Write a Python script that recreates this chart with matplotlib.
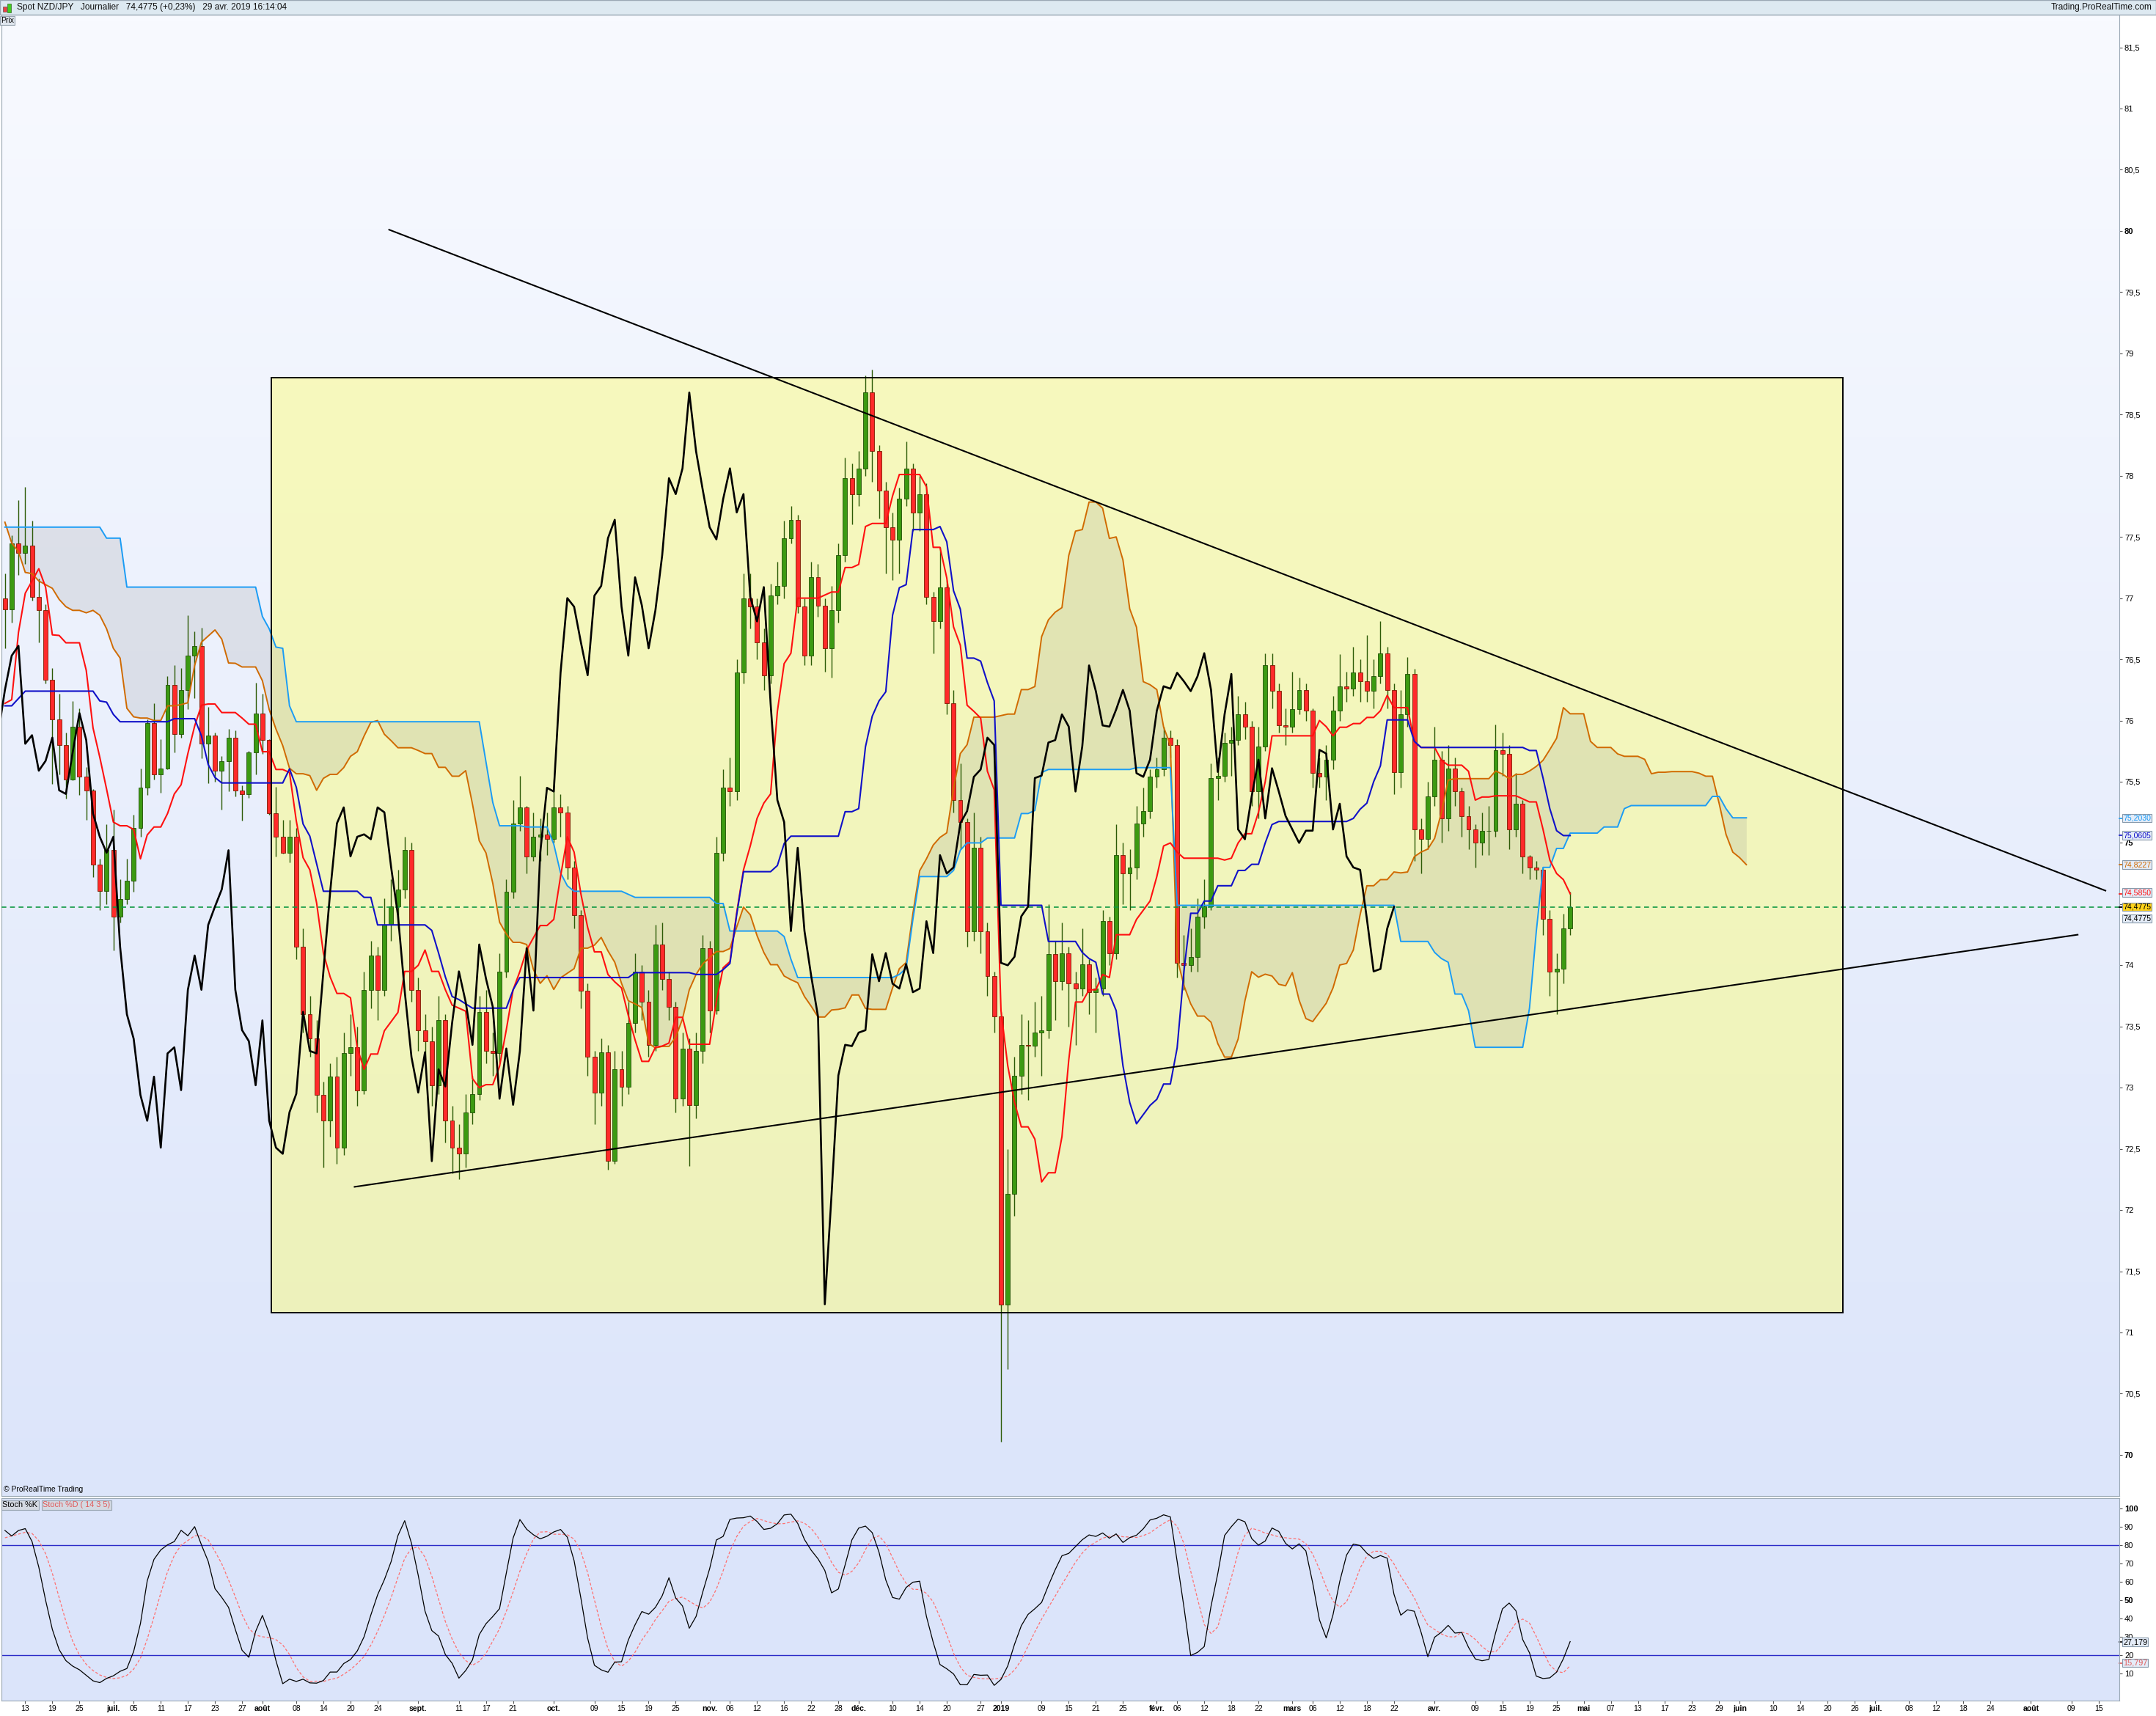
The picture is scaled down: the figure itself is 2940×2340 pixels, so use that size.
import numpy as np
import pandas as pd
import matplotlib
matplotlib.use("Agg")
import matplotlib.pyplot as plt
from matplotlib.patches import Rectangle
from matplotlib.colors import LinearSegmentedColormap

plt.rcParams['font.family'] = ['Liberation Sans', 'DejaVu Sans']

# trading days (weekdays) from the first candle to the end of the axis
days = pd.bdate_range("2018-06-08", "2019-08-30")

# daily NZD/JPY candles, 8 June 2018 -> 29 April 2019 (open = previous close)
first_open = 77.00
close = [
    76.91, 77.45, 77.37, 77.43, 77.01, 76.90, 76.33, 76.01, 75.80, 75.52,
    75.95, 75.54, 75.43, 74.82, 74.61, 74.94, 74.40, 74.54, 74.69, 75.12,
    75.45, 75.98, 75.56, 75.61, 76.29, 75.89, 76.25, 76.53, 76.61, 75.81,
    75.88, 75.59, 75.67, 75.86, 75.43, 75.40, 75.74, 76.06, 75.84, 75.24,
    75.05, 74.92, 75.05, 74.15, 73.60, 73.40, 72.94, 72.73, 73.09, 72.51,
    73.28, 73.33, 72.98, 73.80, 74.08, 73.80, 74.33, 74.48, 74.62, 74.94,
    73.80, 73.47, 73.38, 73.02, 73.55, 72.73, 72.51, 72.46, 72.80, 72.95,
    73.62, 73.30, 73.28, 73.95, 74.60, 75.16, 75.29, 74.89, 75.05, 75.07,
    75.03, 75.29, 75.25, 74.80, 74.41, 73.79, 73.25, 72.96, 73.29, 72.40,
    73.15, 73.01, 73.53, 73.95, 73.70, 73.35, 74.17, 73.89, 73.66, 72.91,
    73.32, 72.86, 73.30, 74.14, 73.63, 74.92, 75.45, 75.42, 76.39, 77.00,
    76.93, 76.64, 76.37, 77.02, 77.10, 77.49, 77.64, 76.93, 76.53, 77.17,
    76.94, 76.59, 76.90, 77.35, 77.98, 77.85, 78.06, 78.68, 78.20, 77.88,
    77.58, 77.48, 77.81, 78.06, 77.70, 77.85, 77.01, 76.81, 77.09, 76.14,
    75.35, 75.17, 74.28, 74.96, 74.28, 73.91, 73.58, 71.23, 72.13, 73.10,
    73.35, 73.34, 73.45, 73.47, 74.09, 73.87, 74.10, 73.85, 73.81, 74.01,
    73.78, 73.81, 74.36, 74.10, 74.90, 74.75, 74.80, 75.16, 75.26, 75.54,
    75.60, 75.86, 75.80, 74.02, 74.00, 74.07, 74.40, 74.48, 75.53, 75.55,
    75.82, 75.84, 76.05, 75.95, 75.42, 75.79, 76.45, 76.24, 75.96, 75.95,
    76.09, 76.25, 76.08, 75.57, 75.54, 75.68, 76.08, 76.28, 76.26, 76.39,
    76.32, 76.24, 76.36, 76.55, 76.25, 75.58, 76.05, 76.38, 75.11, 75.03,
    75.38, 75.68, 75.20, 75.61, 75.42, 75.22, 75.11, 75.00, 75.10, 75.10,
    75.76, 75.73, 75.11, 75.32, 74.89, 74.80, 74.78, 74.38, 73.95, 73.97,
    74.30, 74.4775,
]
high = [
    77.20, 77.51, 77.80, 77.91, 77.63, 77.16, 76.95, 76.43, 76.22, 75.90,
    76.16, 76.10, 75.62, 75.44, 74.87, 75.15, 75.27, 74.70, 74.87, 75.23,
    75.61, 76.01, 76.14, 75.85, 76.36, 76.45, 76.43, 76.86, 76.73, 76.76,
    76.11, 75.90, 75.71, 75.93, 75.92, 75.47, 75.75, 76.31, 76.22, 75.85,
    75.46, 75.19, 75.19, 75.12, 74.30, 73.75, 73.55, 73.05, 73.20, 73.25,
    73.45, 73.60, 73.50, 73.95, 74.20, 74.15, 74.55, 74.70, 74.78, 75.05,
    75.00, 73.90, 73.60, 73.50, 73.75, 73.60, 72.85, 72.70, 72.95, 73.10,
    73.75, 73.80, 73.45, 74.10, 74.70, 75.35, 75.55, 75.30, 75.25, 75.20,
    75.25, 75.52, 75.40, 75.30, 74.85, 74.45, 73.85, 73.30, 73.40, 73.35,
    73.30, 73.30, 73.70, 74.10, 74.00, 73.80, 74.33, 74.35, 73.95, 73.70,
    73.45, 73.40, 73.45, 74.25, 74.20, 75.05, 75.60, 75.70, 76.50, 77.20,
    77.20, 77.00, 76.75, 77.12, 77.30, 77.63, 77.75, 77.68, 77.00, 77.30,
    77.28, 77.00, 77.10, 77.45, 78.15, 78.10, 78.20, 78.82, 78.87, 78.25,
    77.95, 77.70, 77.90, 78.28, 78.10, 78.00, 77.94, 77.05, 77.42, 77.15,
    76.25, 75.65, 75.20, 75.25, 75.05, 74.35, 73.95, 73.62, 72.50, 73.25,
    73.60, 73.55, 73.70, 73.75, 74.50, 74.20, 74.35, 74.15, 73.95, 74.30,
    74.05, 73.90, 74.45, 74.40, 75.15, 75.00, 74.95, 75.30, 75.45, 75.60,
    75.70, 75.95, 75.92, 75.85, 74.25, 74.30, 74.55, 74.70, 75.65, 75.70,
    75.90, 75.95, 76.20, 76.15, 76.00, 75.95, 76.55, 76.55, 76.30, 76.10,
    76.40, 76.35, 76.30, 76.10, 75.70, 75.80, 76.20, 76.54, 76.40, 76.60,
    76.50, 76.70, 76.50, 76.81, 76.60, 76.30, 76.25, 76.52, 76.42, 75.20,
    75.50, 75.95, 75.75, 75.80, 75.70, 75.45, 75.30, 75.15, 75.25, 75.30,
    75.97, 75.90, 75.80, 75.57, 75.35, 74.90, 74.85, 74.80, 74.45, 74.10,
    74.42, 74.60,
]
low = [
    76.59, 76.80, 77.19, 77.28, 76.98, 76.64, 76.30, 75.48, 75.56, 75.36,
    75.51, 75.39, 75.19, 74.72, 74.45, 74.50, 74.12, 74.35, 74.50, 74.60,
    75.05, 75.39, 75.52, 75.41, 75.60, 75.74, 75.86, 76.09, 76.18, 75.69,
    75.49, 75.50, 75.27, 75.42, 75.38, 75.18, 75.37, 75.56, 75.73, 75.23,
    74.89, 74.91, 74.84, 74.05, 73.45, 73.25, 72.80, 72.35, 72.60, 72.38,
    72.45, 73.10, 72.85, 72.95, 73.65, 73.55, 73.75, 74.20, 74.30, 74.55,
    73.70, 73.30, 73.20, 72.85, 72.95, 72.55, 72.30, 72.25, 72.35, 72.70,
    72.90, 73.20, 73.10, 73.20, 73.90, 74.55, 75.10, 74.75, 74.85, 74.85,
    74.90, 75.00, 75.05, 74.70, 74.30, 73.65, 73.10, 72.70, 72.85, 72.33,
    72.38, 72.85, 72.95, 73.45, 73.55, 73.25, 73.30, 73.80, 73.55, 72.80,
    72.85, 72.36, 72.75, 73.20, 73.45, 73.60, 74.85, 75.30, 75.35, 76.30,
    76.75, 76.50, 76.25, 76.30, 76.95, 77.00, 77.45, 76.88, 76.45, 76.45,
    76.85, 76.40, 76.35, 76.80, 77.30, 77.60, 77.75, 78.00, 77.95, 77.65,
    77.20, 77.15, 77.20, 77.75, 77.55, 77.55, 76.95, 76.55, 76.75, 76.05,
    75.25, 74.95, 74.15, 74.20, 74.10, 73.75, 73.45, 70.11, 70.70, 71.95,
    72.95, 72.90, 73.25, 73.10, 73.40, 73.55, 73.80, 73.50, 73.35, 73.75,
    73.60, 73.45, 73.75, 74.00, 74.05, 74.50, 74.45, 74.70, 75.05, 75.20,
    75.45, 75.55, 75.70, 73.90, 73.80, 73.95, 73.95, 74.30, 74.45, 75.35,
    75.50, 75.55, 75.80, 75.85, 75.30, 75.20, 75.75, 76.10, 75.90, 75.80,
    75.90, 76.05, 76.00, 75.45, 75.45, 75.35, 75.60, 76.00, 76.15, 76.20,
    76.15, 76.15, 76.10, 76.30, 76.10, 75.40, 75.45, 75.95, 74.85, 74.75,
    74.95, 75.30, 75.00, 75.10, 75.30, 75.05, 74.95, 74.80, 74.90, 74.90,
    75.05, 75.55, 74.95, 75.05, 74.75, 74.70, 74.70, 74.25, 73.75, 73.60,
    73.85, 74.25,
]

tenkan_lead = [76.14, 76.17, 76.72, 77.04, 77.14, 77.24, 77.09, 76.70]
kijun_lead = [76.12, 76.12, 76.18] + [76.24] * 11 + [76.16, 76.15, 76.05] + [75.99] * 8
span_a_lead = [77.62, 77.45, 77.38, 77.21, 77.20, 77.14, 77.11, 77.08, 76.99, 76.93,
               76.90, 76.90, 76.88, 76.90, 76.86, 76.75, 76.59, 76.51, 76.10, 76.03,
               76.02, 76.02, 76.00, 76.00, 76.12, 76.12]
span_b_levels = [77.58, 77.49, 77.09, 76.85, 76.75, 76.60, 76.59, 76.12, 75.99, 75.66, 75.33, 75.14]
span_b_runs = [15, 3, 20, 1, 1, 1, 1, 1, 28, 1, 1, 4]
stoch_k_lead = [88, 85, 88, 89, 82, 68, 50, 34, 23, 17, 14, 12, 9, 6, 5]
stoch_d_lead = [84, 85, 86, 87]

# drawn objects: (day index, price)
box_corners = [(39.3, 71.16), (271.2, 78.80)]
upper_trend = [(56.7, 80.01), (310.0, 74.61)]
lower_trend = [(51.6, 72.19), (305.9, 74.25)]

# x-axis labels
tick_dates = ["2018-06-13", "2018-06-19", "2018-06-25", "2018-07-02", "2018-07-05", "2018-07-11",
              "2018-07-17", "2018-07-23", "2018-07-27", "2018-08-01", "2018-08-08", "2018-08-14",
              "2018-08-20", "2018-08-24", "2018-09-03", "2018-09-11", "2018-09-17", "2018-09-21",
              "2018-10-01", "2018-10-09", "2018-10-15", "2018-10-19", "2018-10-25", "2018-11-01",
              "2018-11-06", "2018-11-12", "2018-11-16", "2018-11-22", "2018-11-28", "2018-12-03",
              "2018-12-10", "2018-12-14", "2018-12-20", "2018-12-27", "2019-01-01", "2019-01-09",
              "2019-01-15", "2019-01-21", "2019-01-25", "2019-02-01", "2019-02-06", "2019-02-12",
              "2019-02-18", "2019-02-22", "2019-03-01", "2019-03-06", "2019-03-12", "2019-03-18",
              "2019-03-22", "2019-04-01", "2019-04-09", "2019-04-15", "2019-04-19", "2019-04-25",
              "2019-05-01", "2019-05-07", "2019-05-13", "2019-05-17", "2019-05-23", "2019-05-29",
              "2019-06-03", "2019-06-10", "2019-06-14", "2019-06-20", "2019-06-26", "2019-07-01",
              "2019-07-08", "2019-07-12", "2019-07-18", "2019-07-24", "2019-08-01", "2019-08-09",
              "2019-08-15"]
tick_labels = ["13", "19", "25", "juil.", "05", "11", "17", "23", "27", "août", "08", "14",
               "20", "24", "sept.", "11", "17", "21", "oct.", "09", "15", "19", "25", "nov.",
               "06", "12", "16", "22", "28", "déc.", "10", "14", "20", "27", "2019", "09",
               "15", "21", "25", "févr.", "06", "12", "18", "22", "mars", "06", "12", "18",
               "22", "avr.", "09", "15", "19", "25", "mai", "07", "13", "17", "23", "29",
               "juin", "10", "14", "20", "26", "juil.", "08", "12", "18", "24", "août", "09", "15"]

# ---- indicators
c = np.array(close)
h = np.array(high)
l = np.array(low)
o = np.concatenate([[first_open], c[:-1]])
h = np.maximum(h, np.maximum(o, c))
l = np.minimum(l, np.minimum(o, c))
n = len(c)
x = np.arange(n)
hs, ls = pd.Series(h), pd.Series(l)


def midpoint(p):
    return ((hs.rolling(p).max() + ls.rolling(p).min()) / 2).to_numpy()


tenkan = midpoint(9)
tenkan[:8] = tenkan_lead
kijun = midpoint(26)
kijun[:25] = kijun_lead
span_a = np.concatenate([span_a_lead, (tenkan + kijun) / 2])
span_b = np.concatenate([[np.nan] * 26, midpoint(52)])
span_b[:77] = np.repeat(span_b_levels, span_b_runs)
xs = np.arange(n + 26)

raw_k = 100 * (c - ls.rolling(14).min()) / (hs.rolling(14).max() - ls.rolling(14).min())
stoch_k = raw_k.rolling(3).mean().to_numpy()
stoch_k[:15] = stoch_k_lead
stoch_d = pd.Series(stoch_k).rolling(5).mean().to_numpy()
stoch_d[:4] = stoch_d_lead

# ---- figure
W, H = 2940, 2340
fig = plt.figure(figsize=(W / 100, H / 100), dpi=100)


def px_box(left, top, right, bottom):
    return [left / W, 1 - bottom / H, (right - left) / W, (bottom - top) / H]


XMIN, XMAX = -0.51, 312.05
YMIN, YMAX = 69.664, 81.767

# header bar
fig.patches.append(Rectangle((0, 1 - 20 / H), 1, 20 / H, transform=fig.transFigure,
                             facecolor='#dde9f1', edgecolor='#9aa8b4', lw=1))
fig.patches.append(Rectangle((4 / W, 1 - 16 / H), 5 / W, 7 / H, transform=fig.transFigure,
                             facecolor='#f04040', edgecolor='#555555', lw=0.5))
fig.patches.append(Rectangle((10 / W, 1 - 17 / H), 5 / W, 12 / H, transform=fig.transFigure,
                             facecolor='#44cc22', edgecolor='#336622', lw=0.5))
fig.text(23 / W, 1 - 10.5 / H, "Spot NZD/JPY   Journalier   74,4775 (+0,23%)   29 avr. 2019 16:14:04",
         fontsize=8.6, va='center', ha='left', color='#111111')
fig.text(2935 / W, 1 - 10.5 / H, "Trading.ProRealTime.com", fontsize=8.6, va='center', ha='right',
         color='#111111')

ax = fig.add_axes(px_box(2, 20, 2890, 2040))
ax2 = fig.add_axes(px_box(2, 2043, 2890, 2319))

# background gradient of the price panel
grad = np.linspace(0, 1, 256).reshape(-1, 1)
cmap = LinearSegmentedColormap.from_list('bg', ['#f8faff', '#dce5fa'])
ax.imshow(grad, extent=[XMIN, XMAX, YMIN, YMAX], aspect='auto', cmap=cmap, origin='upper', zorder=0)

(bx0, by0), (bx1, by1) = box_corners
ax.add_patch(Rectangle((bx0, by0), bx1 - bx0, by1 - by0, facecolor='#ffff70', alpha=0.45,
                       edgecolor='none', zorder=1))
ax.add_patch(Rectangle((bx0, by0), bx1 - bx0, by1 - by0, facecolor='none', edgecolor='black',
                       lw=1.4, zorder=7))

# cloud
ax.fill_between(xs, span_a, span_b, color='#8e8e8e', alpha=0.18, lw=0, zorder=2)
ax.plot(xs, span_a, color='#d06a00', lw=1.4, zorder=5)
ax.plot(xs, span_b, color='#1a9cf5', lw=1.4, zorder=5)

# candles
up = c >= o
ax.vlines(x, l, h, color='#2c5a06', lw=1.0, zorder=3)
ax.bar(x[up], (c - o)[up], bottom=o[up], width=0.64, color='#3c9a12', edgecolor='#1f4f05',
       lw=0.6, zorder=4)
ax.bar(x[~up], (c - o)[~up], bottom=o[~up], width=0.64, color='#ff2a2a', edgecolor='#7a1a00',
       lw=0.6, zorder=4)

ax.plot(x, tenkan, color='#ff1010', lw=1.5, zorder=5)
ax.plot(x, kijun, color='#1010c8', lw=1.5, zorder=5)
ax.plot(x - 26, c, color='black', lw=1.9, zorder=6)

ax.axhline(close[-1], color='#119944', ls=(0, (4, 3)), lw=1.2, zorder=5)
for (x0, y0), (x1, y1) in (upper_trend, lower_trend):
    ax.plot([x0, x1], [y0, y1], color='black', lw=1.5, zorder=7)

ax.set_xlim(XMIN, XMAX)
ax.set_ylim(YMIN, YMAX)
ax.set_xticks([])
ax.yaxis.tick_right()
yt = np.arange(70, 82, 0.5)
ax.set_yticks(yt)
# the 74,5 label sits under the value tags, as on the original
ax.set_yticklabels(["" if v == 74.5 else f"{v:g}".replace('.', ',') for v in yt])
for v, lab in zip(yt, ax.get_yticklabels()):
    if v % 5 == 0:
        lab.set_fontweight('bold')
ax.tick_params(axis='y', direction='out', length=3, pad=2, labelsize=8, color='#555555')
for s in ax.spines.values():
    s.set_color('#9aa8b4')

ax.text(0.0012, 0.002, "© ProRealTime Trading", transform=ax.transAxes, fontsize=7.5,
        va='bottom', ha='left', zorder=8)
fig.text(1 / W, 1 - 28 / H, "Prix", fontsize=7.5, va='center', ha='left',
         bbox=dict(facecolor='#dfe6ee', edgecolor='#98a4b0', pad=1.0, lw=0.8))

# value tags on the price axis
tags = [(75.2030, "75,2030", '#1a9cf5', '#e4ecf8', 0), (75.0605, "75,0605", '#1010c8', '#e4ecf8', 0),
        (74.8227, "74,8227", '#d06a00', '#e4ecf8', 0), (74.5850, "74,5850", '#ff1010', '#e4ecf8', 0.01),
        (74.4775, "74,4775", 'black', '#e4ecf8', -0.095), (74.4775, "74,4775", 'black', '#ffd21a', 0)]
ytr = ax.get_yaxis_transform()
for val, txt, col, bg, off in tags:
    ax.plot([1.0, 1.0016], [val, val], transform=ytr, color=col, lw=1.2, clip_on=False, zorder=10)
    ax.text(1.0018, val + off, txt, transform=ytr, color=col, fontsize=7.6, va='center', ha='left',
            clip_on=False, zorder=10,
            bbox=dict(facecolor=bg, edgecolor='#8899aa', pad=0.6, lw=0.8))

# stochastic panel
ax2.set_facecolor('#dbe4fa')
ax2.axhline(80, color='#2b2bc8', lw=1.0)
ax2.axhline(20, color='#2b2bc8', lw=1.0)
ax2.plot(x, stoch_d, color='#ff7070', lw=0.9, ls=(0, (3, 2)))
ax2.plot(x, stoch_k, color='black', lw=0.9)
ax2.set_xlim(XMIN, XMAX)
ax2.set_ylim(-4.8, 105.6)
ax2.yaxis.tick_right()
st = np.arange(10, 101, 10)
ax2.set_yticks(st)
ax2.set_yticklabels([str(v) for v in st])
for v, lab in zip(st, ax2.get_yticklabels()):
    if v in (50, 100):
        lab.set_fontweight('bold')
ax2.tick_params(axis='y', direction='out', length=3, pad=2, labelsize=8, color='#555555')
tick_pos = [days.get_loc(pd.Timestamp(d)) for d in tick_dates]
ax2.set_xticks(tick_pos)
ax2.set_xticklabels(tick_labels)
for lab in ax2.get_xticklabels():
    if not lab.get_text().isdigit() or lab.get_text() == "2019":
        lab.set_fontweight('bold')
ax2.tick_params(axis='x', direction='out', length=3, pad=1.2, labelsize=7.6, color='#555555')
for s in ax2.spines.values():
    s.set_color('#9aa8b4')

ax2.text(0.0005, 0.985, "Stoch %K", transform=ax2.transAxes, fontsize=7.8, va='top', ha='left',
         bbox=dict(facecolor='#d4d9e2', edgecolor='#98a4b0', pad=1.0, lw=0.8))
ax2.text(0.0195, 0.985, "Stoch %D ( 14 3 5)", transform=ax2.transAxes, fontsize=7.8, va='top',
         ha='left', color='#e05a5a',
         bbox=dict(facecolor='#d4d9e2', edgecolor='#98a4b0', pad=1.0, lw=0.8))
ytr2 = ax2.get_yaxis_transform()
for val, txt, col in [(27.179, "27,179", 'black'), (15.797, "15,797", '#e05a5a')]:
    ax2.plot([1.0, 1.0016], [val, val], transform=ytr2, color=col, lw=1.2, clip_on=False)
    ax2.text(1.0018, val, txt, transform=ytr2, color=col, fontsize=7.8, va='center', ha='left',
             clip_on=False, bbox=dict(facecolor='#e4ecf8', edgecolor='#8899aa', pad=0.7, lw=0.8))

fig.savefig("out.png", dpi=100)
